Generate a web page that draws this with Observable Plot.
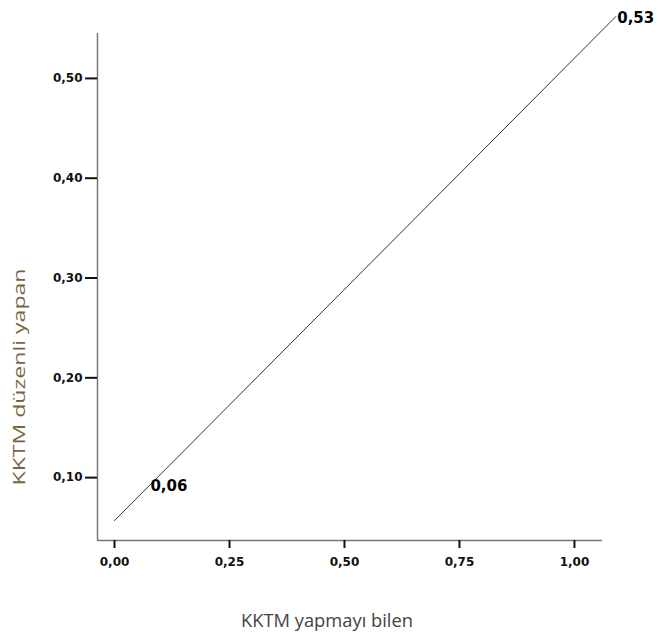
<!DOCTYPE html>
<html>
<head>
<meta charset="utf-8">
<script src="https://cdn.jsdelivr.net/npm/d3@7"></script>
<script src="https://cdn.jsdelivr.net/npm/@observablehq/plot@0.6"></script>
<style>
  html, body { margin: 0; padding: 0; background: #fff; }
  #chart svg { display: block; }
</style>
</head>
<body>
<div id="chart"></div>
<script>
// Data
const lineX = [0, 1.09];
const lineY = [0.057, 0.562];
const labelX = [0.078, 1.093];
const labelY = [0.091, 0.560];
const labelText = ["0,06", "0,53"];
const xTicks = [0, 0.25, 0.5, 0.75, 1.0];
const yTicks = [0.1, 0.2, 0.3, 0.4, 0.5];
const xTitle = "KKTM yapmayı bilen";
const yTitle = "KKTM düzenli yapan";
const xDomain = [-0.037, 1.061];
const yDomain = [0.037, 0.545];

const fmt = d => d.toFixed(2).replace(".", ",");
const lineData = lineX.map((x, i) => ({x, y: lineY[i]}));
const labels = labelX.map((x, i) => ({x, y: labelY[i], t: labelText[i]}));

const chart = Plot.plot({
  width: 670,
  height: 632,
  marginLeft: 97,
  marginRight: 68,
  marginTop: 33,
  marginBottom: 92,
  style: {fontFamily: "DejaVu Sans", background: "#fff", overflow: "visible"},
  x: {domain: xDomain},
  y: {domain: yDomain},
  marks: [
    Plot.ruleX([xDomain[0]], {stroke: "#777", strokeWidth: 1.5}),
    Plot.ruleY([yDomain[0]], {stroke: "#777", strokeWidth: 1.5}),
    Plot.axisX({ticks: xTicks, tickFormat: fmt, tickSize: 8, tickPadding: 9, strokeWidth: 2, stroke: "#111",
      fill: "#111", fontWeight: "bold", fontSize: 12, label: null}),
    Plot.axisY({ticks: yTicks, tickFormat: fmt, tickSize: 12, tickPadding: 3, strokeWidth: 2, stroke: "#111",
      fill: "#111", fontWeight: "bold", fontSize: 12, label: null}),
    Plot.line(lineData, {x: "x", y: "y", stroke: "#333", strokeWidth: 1, clip: false}),
    Plot.text(labels, {x: "x", y: "y", text: "t", textAnchor: "start", fontWeight: "bold",
      fontSize: 15, fill: "#000", clip: false}),
    Plot.text([xTitle], {frameAnchor: "bottom", dx: -23, dy: 86, fontFamily: "Open Sans",
      fontSize: 18, fill: "#444", className: "xtitle"}),
    Plot.text([yTitle], {frameAnchor: "left", textAnchor: "middle", dx: -78, dy: 90, rotate: -90,
      fontFamily: "Open Sans", fontSize: 16, fill: "#7a6440", className: "ytitle"})
  ]
});
// Stretch the rotated y title to the reference's length
chart.querySelectorAll(".ytitle text").forEach(t => {
  t.setAttribute("textLength", 217);
  t.setAttribute("lengthAdjust", "spacingAndGlyphs");
});
chart.querySelectorAll(".xtitle text").forEach(t => {
  t.setAttribute("textLength", 172);
  t.setAttribute("lengthAdjust", "spacingAndGlyphs");
});
document.getElementById("chart").appendChild(chart);
</script>
</body>
</html>
